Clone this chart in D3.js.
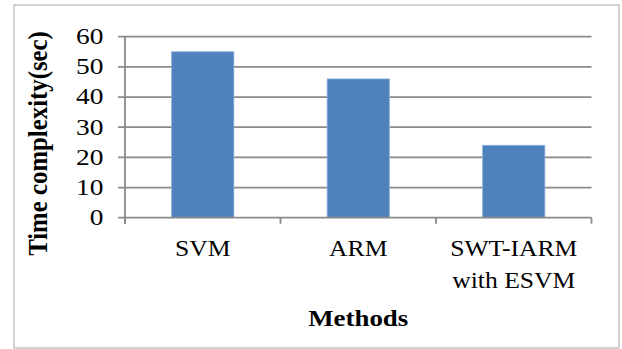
<!DOCTYPE html>
<html><head><meta charset="utf-8">
<script src="https://cdn.jsdelivr.net/npm/d3@7"></script>
<style>body{margin:0;background:#fff}svg{display:block}</style>
</head><body>
<svg id="c" width="622" height="349"></svg>
<script>
const categories = [["SVM"], ["ARM"], ["SWT-IARM", "with ESVM"]];
const values = [55, 46, 24];
const yTicks = [0, 10, 20, 30, 40, 50, 60];
const yTitle = "Time complexity(sec)";
const xTitle = "Methods";

const svg = d3.select("#c");
const L = 125, R = 591.5, T = 36.7, B = 217.7;
const gridColor = "#8a8a8a";
const font = "'Liberation Serif','Times New Roman',serif";
const SX = 1.14;

svg.append("rect").attr("x", 14).attr("y", 5).attr("width", 605).attr("height", 343)
  .attr("fill", "#fff").attr("stroke", "#a6a6a6").attr("stroke-width", 1);

const x = d3.scaleBand().domain(categories.map((d, i) => i)).range([L, R]).paddingInner(0.6).paddingOuter(0.3);
const xb = d3.scaleBand().domain(categories.map((d, i) => i)).range([L, R]);
const y = d3.scaleLinear().domain([0, 60]).range([B, T]);

// gridlines
svg.append("g").selectAll("line").data(yTicks.filter(d => d > 0)).join("line")
  .attr("x1", L - 7).attr("x2", R).attr("y1", d => y(d)).attr("y2", d => y(d))
  .attr("stroke", gridColor).attr("stroke-width", 1.8);

// bars
svg.append("g").selectAll("rect").data(values).join("rect")
  .attr("x", (d, i) => x(i)).attr("width", x.bandwidth())
  .attr("y", d => y(d)).attr("height", d => B - y(d))
  .attr("fill", "#4f81bd").attr("stroke", "#8aaedb").attr("stroke-width", 0.8);

// x axis baseline + ticks
svg.append("line").attr("x1", L - 7).attr("x2", R).attr("y1", B).attr("y2", B)
  .attr("stroke", gridColor).attr("stroke-width", 1.8);
const xt = [0, 1, 2].map(i => xb(i)).concat([R]);
svg.append("g").selectAll("line").data(xt).join("line")
  .attr("x1", d => d).attr("x2", d => d).attr("y1", B).attr("y2", B + 6)
  .attr("stroke", gridColor).attr("stroke-width", 1.8);

// y axis line
svg.append("line").attr("x1", L).attr("x2", L).attr("y1", T).attr("y2", B + 6)
  .attr("stroke", gridColor).attr("stroke-width", 1.8);

// y tick labels
svg.append("g").selectAll("g").data(yTicks).join("g")
  .attr("transform", d => `translate(103.5,${y(d) + 7.3}) scale(1.22,1)`)
  .append("text").attr("text-anchor", "end")
  .attr("font-family", font).attr("font-size", 22.5).attr("fill", "#000").text(d => d);

// category labels
categories.forEach((lines, i) => {
  lines.forEach((t, j) => {
    svg.append("g")
      .attr("transform", `translate(${xb(i) + xb.bandwidth() / 2},${256 + j * 32.3}) scale(${SX},1)`)
      .append("text").attr("text-anchor", "middle")
      .attr("font-family", font).attr("font-size", 22.5).attr("fill", "#000").text(t);
  });
});

// axis titles
svg.append("g").attr("transform", `translate(${(L + R) / 2},326) scale(1.12,1)`)
  .append("text").attr("text-anchor", "middle")
  .attr("font-family", font).attr("font-size", 24).attr("font-weight", "bold").text(xTitle);
svg.append("g").attr("transform", "translate(47,143.5) scale(1.12,1) rotate(-90)")
  .append("text").attr("text-anchor", "middle")
  .attr("font-family", font).attr("font-size", 24.8).attr("font-weight", "bold").text(yTitle);
</script>
</body></html>
